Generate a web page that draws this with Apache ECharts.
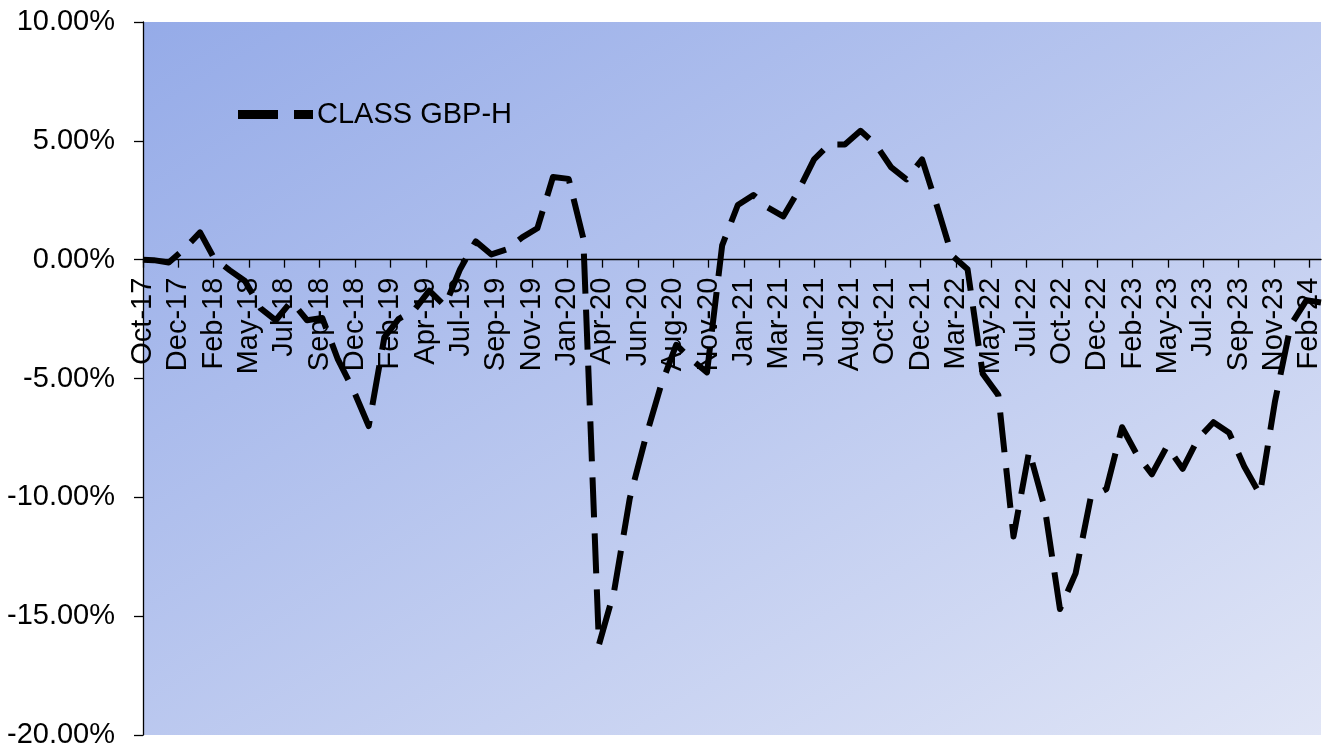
<!DOCTYPE html>
<html>
<head>
<meta charset="utf-8">
<script src="https://cdn.jsdelivr.net/npm/echarts@6/dist/echarts.min.js"></script>
<style>
  html, body { margin: 0; padding: 0; background: #ffffff; }
  #chart { width: 1338px; height: 749px; }
</style>
</head>
<body>
<div id="chart"></div>
<script>
// Cumulative relative performance of the share class, month-end readings (percent)
const seriesName = 'CLASS GBP-H';

const dates = [
  '2017-10-10', '2017-10-31', '2017-11-30', '2017-12-31',
  '2018-01-31', '2018-02-28', '2018-03-31', '2018-04-30', '2018-05-31', '2018-06-30',
  '2018-07-31', '2018-08-31', '2018-09-30', '2018-10-31', '2018-11-30', '2018-12-31',
  '2019-01-31', '2019-02-28', '2019-03-31', '2019-04-30', '2019-05-31', '2019-06-30',
  '2019-07-31', '2019-08-31', '2019-09-30', '2019-10-31', '2019-11-30', '2019-12-31',
  '2020-01-31', '2020-02-29', '2020-03-31', '2020-04-30', '2020-05-31', '2020-06-30',
  '2020-07-31', '2020-08-31', '2020-09-30', '2020-10-31', '2020-11-30', '2020-12-31',
  '2021-01-31', '2021-02-28', '2021-03-31', '2021-04-30', '2021-05-31', '2021-06-30',
  '2021-07-31', '2021-08-31', '2021-09-30', '2021-10-31', '2021-11-30', '2021-12-31',
  '2022-01-31', '2022-02-28', '2022-03-31', '2022-04-30', '2022-05-31', '2022-06-30',
  '2022-07-31', '2022-08-31', '2022-09-30', '2022-10-31', '2022-11-30', '2022-12-31',
  '2023-01-31', '2023-02-28', '2023-03-31', '2023-04-30', '2023-05-31', '2023-06-30',
  '2023-07-31', '2023-08-31', '2023-09-30', '2023-10-31', '2023-11-30', '2023-12-31',
  '2024-01-31', '2024-02-29'
];

const values = [
  0.00, -0.02, -0.12, 0.45,
  1.15, 0.05, -0.45, -0.90, -2.05, -2.55,
  -1.75, -2.55, -2.45, -4.20, -5.45, -7.00,
  -3.27, -2.50, -2.13, -1.30, -1.95, -0.40,
  0.77, 0.22, 0.43, 0.94, 1.32, 3.48,
  3.40, 0.90, -16.20, -13.95, -10.05, -7.60,
  -5.35, -3.58, -4.20, -4.74, 0.60, 2.30,
  2.72, 2.20, 1.82, 2.90, 4.22, 4.85,
  4.85, 5.42, 4.85, 3.88, 3.38, 4.22,
  2.15, 0.18, -0.40, -4.80, -5.70, -11.65,
  -8.05, -10.45, -14.70, -13.20, -10.00, -9.65,
  -7.05, -8.15, -9.03, -7.85, -8.80, -7.55,
  -6.84, -7.28, -8.70, -9.88, -5.95, -2.75,
  -1.71, -1.80
];

// Axis settings: date ticks every 70 days from the first date, value axis in percent
const tickStepDays = 70;
const tickCount = 34;
const monthNames = ['Jan', 'Feb', 'Mar', 'Apr', 'May', 'Jun', 'Jul', 'Aug', 'Sep', 'Oct', 'Nov', 'Dec'];
const yMin = -20, yMax = 10, yStep = 5;

const DAY = 86400000;
const t0 = Date.parse(dates[0] + 'T00:00:00Z');
const dayOffset = d => Math.round((Date.parse(d + 'T00:00:00Z') - t0) / DAY);
const points = dates.map((d, i) => [dayOffset(d), values[i]]);
const xMax = points[points.length - 1][0];
const tickValues = Array.from({ length: tickCount }, (_, i) => i * tickStepDays);

function tickLabel(v) {
  const dt = new Date(t0 + v * DAY);
  return monthNames[dt.getUTCMonth()] + '-' + String(dt.getUTCFullYear() % 100).padStart(2, '0');
}

const FONT = '"Liberation Sans", Arial, sans-serif';
const FONT_SIZE = 29;

const chartEl = document.getElementById('chart');
const chart = echarts.init(chartEl, null, { renderer: 'canvas' });

// Plot box; the date axis is lifted from the bottom edge up to the 0% level
const gridBox = { left: 143, right: 17, top: 22, bottom: 14 };
const plotHeight = chartEl.clientHeight - gridBox.top - gridBox.bottom;
const zeroLift = plotHeight * (0 - yMin) / (yMax - yMin);

chart.setOption({
  animation: false,
  backgroundColor: '#ffffff',
  grid: {
    ...gridBox,
    outerBoundsMode: 'none',
    containLabel: false,
    show: true,
    borderWidth: 0,
    backgroundColor: new echarts.graphic.LinearGradient(0, 0, 0.536, 1.464, [
      { offset: 0, color: '#95abe8' },
      { offset: 1, color: '#e0e5f6' }
    ])
  },
  legend: {
    left: 238, top: 100,
    padding: 0,
    itemWidth: 75, itemHeight: 9,
    data: [{ name: seriesName, icon: 'path://M0,0H40V9H0Z M56,0H75V9H56Z' }],
    itemStyle: { color: '#000000' },
    textStyle: { fontFamily: FONT, fontSize: FONT_SIZE, color: '#000000', padding: [0, 0, 0, -1] }
  },
  xAxis: {
    type: 'value',
    position: 'bottom',
    offset: -zeroLift,
    min: 0, max: xMax, interval: tickStepDays,
    splitLine: { show: false },
    axisLine: { show: true, onZero: false, lineStyle: { color: '#000000', width: 1.3 } },
    axisTick: { show: true, inside: false, length: 8, customValues: tickValues, lineStyle: { color: '#000000', width: 1.3 } },
    axisLabel: {
      customValues: tickValues,
      rotate: 90, margin: 18,
      fontFamily: FONT, fontSize: FONT_SIZE, color: '#000000',
      formatter: tickLabel
    }
  },
  yAxis: {
    type: 'value',
    min: yMin, max: yMax, interval: yStep,
    splitLine: { show: false },
    axisLine: { show: true, onZero: false, lineStyle: { color: '#000000', width: 1.3 } },
    axisTick: { show: true, inside: false, length: 9, lineStyle: { color: '#000000', width: 1.3 } },
    axisLabel: {
      margin: 28,
      fontFamily: FONT, fontSize: FONT_SIZE, color: '#000000',
      formatter: v => v.toFixed(2) + '%'
    }
  },
  series: [{
    name: seriesName,
    type: 'line',
    data: points,
    symbol: 'none',
    lineStyle: { color: '#000000', width: 6, type: [40, 16], cap: 'butt', join: 'round' },
    itemStyle: { color: '#000000' }
  }]
});
</script>
</body>
</html>
